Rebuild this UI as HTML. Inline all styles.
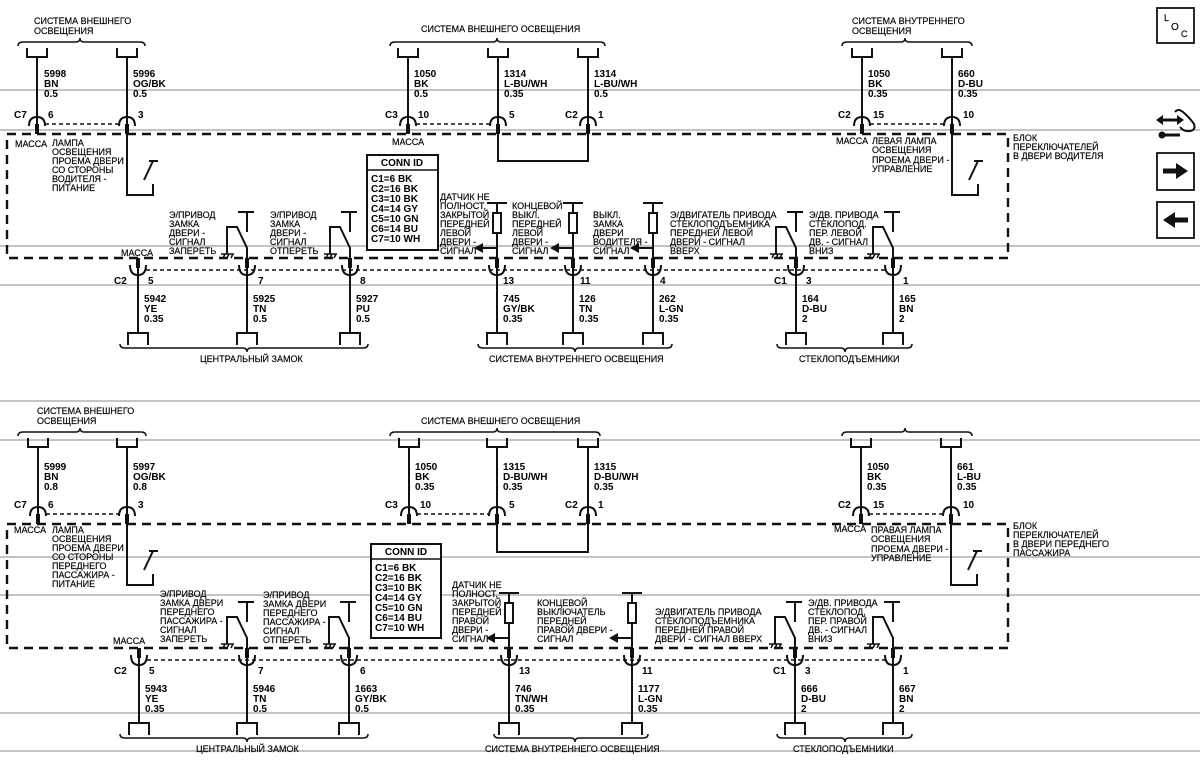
<!DOCTYPE html>
<html><head><meta charset="utf-8"><style>
html,body{margin:0;padding:0;background:#fff;}
svg{display:block;}
text{font-family:"Liberation Sans",Arial,sans-serif;font-size:9px;fill:#000;stroke:#000;stroke-width:0.15;}
.w{font-size:10px;font-weight:bold;stroke-width:0;}
.c{font-size:10px;font-weight:bold;stroke-width:0;}
</style></head><body>
<svg width="1200" height="763" viewBox="0 0 1200 763" xmlns="http://www.w3.org/2000/svg">
<defs>
<g id="tc" fill="none" stroke="#111">
<path d="M-10,48V57H10V48" stroke-width="2"/>
<path d="M0,57V126" stroke-width="2"/>
<path d="M-8,126Q-8,117 0,117Q8,117 8,126" stroke-width="2"/>
<rect x="-2" y="124" width="4" height="10" fill="#111" stroke="none"/>
</g>
<g id="bc" fill="none" stroke="#111">
<rect x="-2" y="258" width="4" height="10" fill="#111" stroke="none"/>
<path d="M-8,265Q-8,275 0,275Q8,275 8,265" stroke-width="2"/>
<path d="M0,268V333" stroke-width="2"/>
<path d="M-10,345V333H10V345" stroke-width="2"/>
</g>
<g id="sw" fill="none" stroke="#111" stroke-width="2">
<path d="M-9,212H7M0,212V232"/>
<path d="M0,258V248L-10,227H-20V254"/>
<path d="M-26,254H-13M-24,258L-22,254M-20,258L-18,254M-16,258L-14,254" stroke-width="1.5"/>
</g>
<g id="rs" fill="none" stroke="#111" stroke-width="2">
<path d="M-10,203H10M0,203V258"/>
<rect x="-4" y="213" width="8" height="20" fill="#fff"/>
<path d="M0,248H-16"/>
<polygon points="-23,248 -14,243 -14,253" fill="#111" stroke="none"/>
</g>
<g id="ls" fill="none" stroke="#111" stroke-width="2">
<path d="M0,134V195H26V184"/>
<path d="M17,180L26,161M22,161H31"/>
</g>
</defs>

<path d="M0,90H1200M0,130H1200M0,246H1200M0,285H1200M0,401H1200M0,440H1200M0,557H1200M0,595H1200M0,713H1200M0,751H1200" stroke="#888" stroke-width="1"/>

<!-- ============ TOP HALF ============ -->
<g fill="none" stroke="#111" stroke-width="1.5">
<path d="M18,46Q18,42 23,42H76Q80,42 80,38Q80,42 84,42H140Q145,42 145,46"/>
<path d="M390,46Q390,42 395,42H493Q497,42 497,38Q497,42 501,42H600Q605,42 605,46"/>
<path d="M842,46Q842,42 847,42H901Q905,42 905,38Q905,42 909,42H967Q972,42 972,46"/>
<path d="M120,344Q120,348 125,348H243Q247,348 247,352Q247,348 251,348H363Q368,348 368,344"/>
<path d="M478,344Q478,348 483,348H571Q575,348 575,352Q575,348 579,348H667Q672,348 672,344"/>
<path d="M777,344Q777,348 782,348H841Q845,348 845,352Q845,348 849,348H907Q912,348 912,344"/>
</g>
<use href="#tc" x="37"/><use href="#tc" x="127"/>
<use href="#tc" x="408"/><use href="#tc" x="498"/><use href="#tc" x="588"/>
<use href="#tc" x="862"/><use href="#tc" x="952"/>
<use href="#bc" x="138"/><use href="#bc" x="247"/><use href="#bc" x="350"/>
<use href="#bc" x="497"/><use href="#bc" x="573"/><use href="#bc" x="653"/>
<use href="#bc" x="796"/><use href="#bc" x="893"/>
<use href="#sw" x="247"/><use href="#sw" x="350"/><use href="#sw" x="796"/><use href="#sw" x="893"/>
<use href="#rs" x="497"/><use href="#rs" x="573"/><use href="#rs" x="653"/>
<use href="#ls" x="127"/><use href="#ls" x="952"/>
<path d="M498,134V161H588V134" fill="none" stroke="#111" stroke-width="2"/>
<g fill="none" stroke="#111">
<path d="M7,134H1008V258H7Z" stroke-width="2.4" stroke-dasharray="9 6"/>
<path d="M45,124H119M416,124H490M870,124H944M146,270H885" stroke-width="1.6" stroke-dasharray="4 3"/>
</g>
<rect x="367" y="155" width="71" height="95" fill="#fff" stroke="#111" stroke-width="2"/>
<path d="M367,170H438" stroke="#111" stroke-width="1.5"/>
<text class="c" x="402" y="166" text-anchor="middle">CONN ID</text>
<text class="c" x="371" y="182">C1=6 BK</text><text class="c" x="371" y="192">C2=16 BK</text>
<text class="c" x="371" y="202">C3=10 BK</text><text class="c" x="371" y="212">C4=14 GY</text>
<text class="c" x="371" y="222">C5=10 GN</text><text class="c" x="371" y="232">C6=14 BU</text>
<text class="c" x="371" y="242">C7=10 WH</text>

<text x="34" y="24">СИСТЕМА ВНЕШНЕГО</text><text x="34" y="34">ОСВЕЩЕНИЯ</text>
<text x="421" y="32">СИСТЕМА ВНЕШНЕГО ОСВЕЩЕНИЯ</text>
<text x="852" y="24">СИСТЕМА ВНУТРЕННЕГО</text><text x="852" y="34">ОСВЕЩЕНИЯ</text>

<text class="w" x="44" y="77">5998</text><text class="w" x="44" y="87">BN</text><text class="w" x="44" y="97">0.5</text>
<text class="w" x="133" y="77">5996</text><text class="w" x="133" y="87">OG/BK</text><text class="w" x="133" y="97">0.5</text>
<text class="w" x="414" y="77">1050</text><text class="w" x="414" y="87">BK</text><text class="w" x="414" y="97">0.5</text>
<text class="w" x="504" y="77">1314</text><text class="w" x="504" y="87">L-BU/WH</text><text class="w" x="504" y="97">0.35</text>
<text class="w" x="594" y="77">1314</text><text class="w" x="594" y="87">L-BU/WH</text><text class="w" x="594" y="97">0.5</text>
<text class="w" x="868" y="77">1050</text><text class="w" x="868" y="87">BK</text><text class="w" x="868" y="97">0.35</text>
<text class="w" x="958" y="77">660</text><text class="w" x="958" y="87">D-BU</text><text class="w" x="958" y="97">0.35</text>

<text class="w" x="14" y="118">C7</text><text class="w" x="48" y="118">6</text><text class="w" x="138" y="118">3</text>
<text class="w" x="385" y="118">C3</text><text class="w" x="418" y="118">10</text><text class="w" x="509" y="118">5</text>
<text class="w" x="565" y="118">C2</text><text class="w" x="598" y="118">1</text>
<text class="w" x="838" y="118">C2</text><text class="w" x="873" y="118">15</text><text class="w" x="963" y="118">10</text>

<text x="15" y="147">МАССА</text>
<text x="52" y="146">ЛАМПА</text><text x="52" y="155">ОСВЕЩЕНИЯ</text><text x="52" y="164">ПРОЕМА ДВЕРИ</text>
<text x="52" y="173">СО СТОРОНЫ</text><text x="52" y="182">ВОДИТЕЛЯ -</text><text x="52" y="191">ПИТАНИЕ</text>
<text x="392" y="145">МАССА</text>
<text x="836" y="144">МАССА</text>
<text x="872" y="144">ЛЕВАЯ ЛАМПА</text><text x="872" y="153">ОСВЕЩЕНИЯ</text>
<text x="872" y="163">ПРОЕМА ДВЕРИ -</text><text x="872" y="172">УПРАВЛЕНИЕ</text>
<text x="1013" y="141">БЛОК</text><text x="1013" y="150">ПЕРЕКЛЮЧАТЕЛЕЙ</text><text x="1013" y="159">В ДВЕРИ ВОДИТЕЛЯ</text>

<text x="169" y="218">Э/ПРИВОД</text><text x="169" y="227">ЗАМКА</text><text x="169" y="236">ДВЕРИ -</text>
<text x="169" y="245">СИГНАЛ</text><text x="169" y="254">ЗАПЕРЕТЬ</text>
<text x="270" y="218">Э/ПРИВОД</text><text x="270" y="227">ЗАМКА</text><text x="270" y="236">ДВЕРИ -</text>
<text x="270" y="245">СИГНАЛ</text><text x="270" y="254">ОТПЕРЕТЬ</text>
<text x="121" y="256">МАССА</text>
<text x="440" y="200">ДАТЧИК НЕ</text><text x="440" y="209">ПОЛНОСТ.</text><text x="440" y="218">ЗАКРЫТОЙ</text>
<text x="440" y="227">ПЕРЕДНЕЙ</text><text x="440" y="236">ЛЕВОЙ</text><text x="440" y="245">ДВЕРИ -</text><text x="440" y="254">СИГНАЛ</text>
<text x="512" y="209">КОНЦЕВОЙ</text><text x="512" y="218">ВЫКЛ.</text><text x="512" y="227">ПЕРЕДНЕЙ</text>
<text x="512" y="236">ЛЕВОЙ</text><text x="512" y="245">ДВЕРИ -</text><text x="512" y="254">СИГНАЛ</text>
<text x="593" y="218">ВЫКЛ.</text><text x="593" y="227">ЗАМКА</text><text x="593" y="236">ДВЕРИ</text>
<text x="593" y="245">ВОДИТЕЛЯ -</text><text x="593" y="254">СИГНАЛ</text>
<text x="670" y="218">Э/ДВИГАТЕЛЬ ПРИВОДА</text><text x="670" y="227">СТЕКЛОПОДЪЕМНИКА</text>
<text x="670" y="236">ПЕРЕДНЕЙ ЛЕВОЙ</text><text x="670" y="245">ДВЕРИ - СИГНАЛ</text><text x="670" y="254">ВВЕРХ</text>
<text x="809" y="218">Э/ДВ. ПРИВОДА</text><text x="809" y="227">СТЕКЛОПОД.</text><text x="809" y="236">ПЕР. ЛЕВОЙ</text>
<text x="809" y="245">ДВ. - СИГНАЛ</text><text x="809" y="254">ВНИЗ</text>

<text class="w" x="114" y="284">C2</text><text class="w" x="148" y="284">5</text>
<text class="w" x="258" y="284">7</text><text class="w" x="360" y="284">8</text>
<text class="w" x="503" y="284">13</text><text class="w" x="580" y="284">11</text><text class="w" x="660" y="284">4</text>
<text class="w" x="774" y="284">C1</text><text class="w" x="806" y="284">3</text><text class="w" x="903" y="284">1</text>
<text class="w" x="144" y="302">5942</text><text class="w" x="144" y="312">YE</text><text class="w" x="144" y="322">0.35</text>
<text class="w" x="253" y="302">5925</text><text class="w" x="253" y="312">TN</text><text class="w" x="253" y="322">0.5</text>
<text class="w" x="356" y="302">5927</text><text class="w" x="356" y="312">PU</text><text class="w" x="356" y="322">0.5</text>
<text class="w" x="503" y="302">745</text><text class="w" x="503" y="312">GY/BK</text><text class="w" x="503" y="322">0.35</text>
<text class="w" x="579" y="302">126</text><text class="w" x="579" y="312">TN</text><text class="w" x="579" y="322">0.35</text>
<text class="w" x="659" y="302">262</text><text class="w" x="659" y="312">L-GN</text><text class="w" x="659" y="322">0.35</text>
<text class="w" x="802" y="302">164</text><text class="w" x="802" y="312">D-BU</text><text class="w" x="802" y="322">2</text>
<text class="w" x="899" y="302">165</text><text class="w" x="899" y="312">BN</text><text class="w" x="899" y="322">2</text>
<text x="200" y="362">ЦЕНТРАЛЬНЫЙ ЗАМОК</text>
<text x="489" y="362">СИСТЕМА ВНУТРЕННЕГО ОСВЕЩЕНИЯ</text>
<text x="799" y="362">СТЕКЛОПОДЪЕМНИКИ</text>

<!-- ============ BOTTOM HALF ============ -->
<g transform="translate(0,390)">
<g fill="none" stroke="#111" stroke-width="1.5">
<path d="M18,46Q18,42 23,42H76Q80,42 80,38Q80,42 84,42H141Q146,42 146,46"/>
<path d="M390,46Q390,42 395,42H493Q497,42 497,38Q497,42 501,42H595Q600,42 600,46"/>
<path d="M842,46Q842,42 847,42H901Q905,42 905,38Q905,42 909,42H967Q972,42 972,46"/>
<path d="M120,344Q120,348 125,348H243Q247,348 247,352Q247,348 251,348H363Q368,348 368,344"/>
<path d="M494,344Q494,348 499,348H571Q575,348 575,352Q575,348 579,348H643Q648,348 648,344"/>
<path d="M777,344Q777,348 782,348H841Q845,348 845,352Q845,348 849,348H907Q912,348 912,344"/>
</g>
<use href="#tc" x="38"/><use href="#tc" x="127"/>
<use href="#tc" x="409"/><use href="#tc" x="497"/><use href="#tc" x="588"/>
<use href="#tc" x="861"/><use href="#tc" x="951"/>
<use href="#bc" x="139"/><use href="#bc" x="247"/><use href="#bc" x="349"/>
<use href="#bc" x="509"/><use href="#bc" x="632"/>
<use href="#bc" x="795"/><use href="#bc" x="893"/>
<use href="#sw" x="247"/><use href="#sw" x="349"/><use href="#sw" x="795"/><use href="#sw" x="893"/>
<use href="#rs" x="509"/><use href="#rs" x="632"/>
<use href="#ls" x="127"/><use href="#ls" x="951"/>
<path d="M497,134V162H588V134" fill="none" stroke="#111" stroke-width="2"/>
<g fill="none" stroke="#111">
<path d="M7,134H1008V258H7Z" stroke-width="2.4" stroke-dasharray="9 6"/>
<path d="M46,124H119M417,124H489M869,124H943M147,270H885" stroke-width="1.6" stroke-dasharray="4 3"/>
</g>
<rect x="371" y="154" width="70" height="94" fill="#fff" stroke="#111" stroke-width="2"/>
<path d="M371,169H441" stroke="#111" stroke-width="1.5"/>
<text class="c" x="406" y="165" text-anchor="middle">CONN ID</text>
<text class="c" x="375" y="181">C1=6 BK</text><text class="c" x="375" y="191">C2=16 BK</text>
<text class="c" x="375" y="201">C3=10 BK</text><text class="c" x="375" y="211">C4=14 GY</text>
<text class="c" x="375" y="221">C5=10 GN</text><text class="c" x="375" y="231">C6=14 BU</text>
<text class="c" x="375" y="241">C7=10 WH</text>

<text x="37" y="24">СИСТЕМА ВНЕШНЕГО</text><text x="37" y="34">ОСВЕЩЕНИЯ</text>
<text x="421" y="34">СИСТЕМА ВНЕШНЕГО ОСВЕЩЕНИЯ</text>

<text class="w" x="44" y="80">5999</text><text class="w" x="44" y="90">BN</text><text class="w" x="44" y="100">0.8</text>
<text class="w" x="133" y="80">5997</text><text class="w" x="133" y="90">OG/BK</text><text class="w" x="133" y="100">0.8</text>
<text class="w" x="415" y="80">1050</text><text class="w" x="415" y="90">BK</text><text class="w" x="415" y="100">0.35</text>
<text class="w" x="503" y="80">1315</text><text class="w" x="503" y="90">D-BU/WH</text><text class="w" x="503" y="100">0.35</text>
<text class="w" x="594" y="80">1315</text><text class="w" x="594" y="90">D-BU/WH</text><text class="w" x="594" y="100">0.35</text>
<text class="w" x="867" y="80">1050</text><text class="w" x="867" y="90">BK</text><text class="w" x="867" y="100">0.35</text>
<text class="w" x="957" y="80">661</text><text class="w" x="957" y="90">L-BU</text><text class="w" x="957" y="100">0.35</text>

<text class="w" x="14" y="118">C7</text><text class="w" x="48" y="118">6</text><text class="w" x="138" y="118">3</text>
<text class="w" x="385" y="118">C3</text><text class="w" x="420" y="118">10</text><text class="w" x="509" y="118">5</text>
<text class="w" x="565" y="118">C2</text><text class="w" x="598" y="118">1</text>
<text class="w" x="838" y="118">C2</text><text class="w" x="873" y="118">15</text><text class="w" x="963" y="118">10</text>

<text x="14" y="143">МАССА</text>
<text x="52" y="143">ЛАМПА</text><text x="52" y="152">ОСВЕЩЕНИЯ</text><text x="52" y="161">ПРОЕМА ДВЕРИ</text>
<text x="52" y="170">СО СТОРОНЫ</text><text x="52" y="179">ПЕРЕДНЕГО</text><text x="52" y="188">ПАССАЖИРА -</text><text x="52" y="197">ПИТАНИЕ</text>
<text x="834" y="142">МАССА</text>
<text x="871" y="143">ПРАВАЯ ЛАМПА</text><text x="871" y="152">ОСВЕЩЕНИЯ</text>
<text x="871" y="162">ПРОЕМА ДВЕРИ -</text><text x="871" y="171">УПРАВЛЕНИЕ</text>
<text x="1013" y="139">БЛОК</text><text x="1013" y="148">ПЕРЕКЛЮЧАТЕЛЕЙ</text>
<text x="1013" y="157">В ДВЕРИ ПЕРЕДНЕГО</text><text x="1013" y="166">ПАССАЖИРА</text>

<text x="160" y="207">Э/ПРИВОД</text><text x="160" y="216">ЗАМКА ДВЕРИ</text><text x="160" y="225">ПЕРЕДНЕГО</text>
<text x="160" y="234">ПАССАЖИРА -</text><text x="160" y="243">СИГНАЛ</text><text x="160" y="252">ЗАПЕРЕТЬ</text>
<text x="263" y="208">Э/ПРИВОД</text><text x="263" y="217">ЗАМКА ДВЕРИ</text><text x="263" y="226">ПЕРЕДНЕГО</text>
<text x="263" y="235">ПАССАЖИРА -</text><text x="263" y="244">СИГНАЛ</text><text x="263" y="253">ОТПЕРЕТЬ</text>
<text x="113" y="254">МАССА</text>
<text x="452" y="198">ДАТЧИК НЕ</text><text x="452" y="207">ПОЛНОСТ.</text><text x="452" y="216">ЗАКРЫТОЙ</text>
<text x="452" y="225">ПЕРЕДНЕЙ</text><text x="452" y="234">ПРАВОЙ</text><text x="452" y="243">ДВЕРИ -</text><text x="452" y="252">СИГНАЛ</text>
<text x="537" y="216">КОНЦЕВОЙ</text><text x="537" y="225">ВЫКЛЮЧАТЕЛЬ</text><text x="537" y="234">ПЕРЕДНЕЙ</text>
<text x="537" y="243">ПРАВОЙ ДВЕРИ -</text><text x="537" y="252">СИГНАЛ</text>
<text x="655" y="225">Э/ДВИГАТЕЛЬ ПРИВОДА</text><text x="655" y="234">СТЕКЛОПОДЪЕМНИКА</text>
<text x="655" y="243">ПЕРЕДНЕЙ ПРАВОЙ</text><text x="655" y="252">ДВЕРИ - СИГНАЛ ВВЕРХ</text>
<text x="808" y="216">Э/ДВ. ПРИВОДА</text><text x="808" y="225">СТЕКЛОПОД.</text><text x="808" y="234">ПЕР. ПРАВОЙ</text>
<text x="808" y="243">ДВ. - СИГНАЛ</text><text x="808" y="252">ВНИЗ</text>

<text class="w" x="114" y="284">C2</text><text class="w" x="149" y="284">5</text>
<text class="w" x="258" y="284">7</text><text class="w" x="360" y="284">6</text>
<text class="w" x="519" y="284">13</text><text class="w" x="642" y="284">11</text>
<text class="w" x="773" y="284">C1</text><text class="w" x="805" y="284">3</text><text class="w" x="903" y="284">1</text>
<text class="w" x="145" y="302">5943</text><text class="w" x="145" y="312">YE</text><text class="w" x="145" y="322">0.35</text>
<text class="w" x="253" y="302">5946</text><text class="w" x="253" y="312">TN</text><text class="w" x="253" y="322">0.5</text>
<text class="w" x="355" y="302">1663</text><text class="w" x="355" y="312">GY/BK</text><text class="w" x="355" y="322">0.5</text>
<text class="w" x="515" y="302">746</text><text class="w" x="515" y="312">TN/WH</text><text class="w" x="515" y="322">0.35</text>
<text class="w" x="638" y="302">1177</text><text class="w" x="638" y="312">L-GN</text><text class="w" x="638" y="322">0.35</text>
<text class="w" x="801" y="302">666</text><text class="w" x="801" y="312">D-BU</text><text class="w" x="801" y="322">2</text>
<text class="w" x="899" y="302">667</text><text class="w" x="899" y="312">BN</text><text class="w" x="899" y="322">2</text>
<text x="196" y="362">ЦЕНТРАЛЬНЫЙ ЗАМОК</text>
<text x="485" y="362">СИСТЕМА ВНУТРЕННЕГО ОСВЕЩЕНИЯ</text>
<text x="793" y="362">СТЕКЛОПОДЪЕМНИКИ</text>
</g>

<!-- right icons -->
<rect x="1157" y="8" width="37" height="35" fill="#fff" stroke="#111" stroke-width="1.8"/>
<text x="1164" y="21" style="font-size:9px">L</text>
<text x="1171" y="30" style="font-size:10px">O</text>
<text x="1181" y="37" style="font-size:9px">C</text>
<g stroke="#111" fill="none" stroke-width="3">
<path d="M1160,120H1180"/>
<path d="M1162,135H1180"/>
</g>
<polygon points="1156,120 1163,115 1163,125" fill="#111"/>
<polygon points="1184,120 1177,115 1177,125" fill="#111"/>
<circle cx="1162" cy="135" r="3.5" fill="#111"/>
<path d="M1175,112Q1178,108 1183,112Q1190,118 1194,124Q1196,130 1190,131Q1184,132 1180,127" fill="none" stroke="#111" stroke-width="2"/>
<rect x="1157" y="153" width="37" height="37" fill="#fff" stroke="#111" stroke-width="1.8"/>
<path d="M1163,171H1178" stroke="#111" stroke-width="5"/>
<polygon points="1176,163 1188,171 1176,179" fill="#111"/>
<rect x="1157" y="202" width="37" height="36" fill="#fff" stroke="#111" stroke-width="1.8"/>
<path d="M1173,220H1188" stroke="#111" stroke-width="5"/>
<polygon points="1175,212 1163,220 1175,228" fill="#111"/>
</svg>
</body></html>
